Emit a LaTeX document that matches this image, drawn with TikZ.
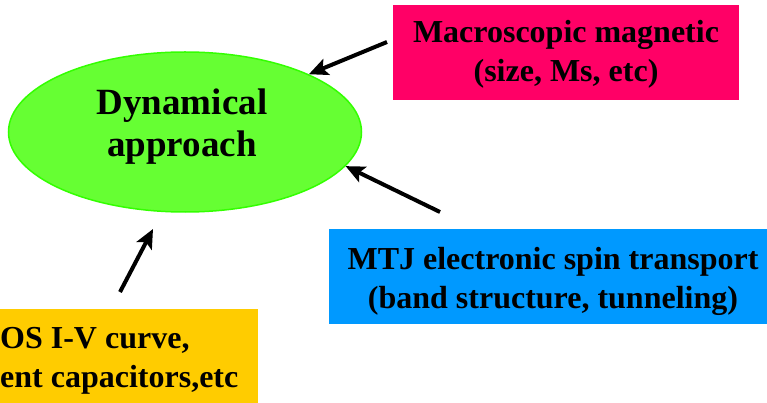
\documentclass[tikz,border=0pt]{standalone}
\usepackage{fontspec}
\setmainfont{Liberation Serif}
\usetikzlibrary{shapes.geometric,arrows.meta}
\definecolor{elfill}{HTML}{66FF33}
\definecolor{eldraw}{HTML}{33FF00}
\definecolor{pinkbox}{HTML}{FF0066}
\definecolor{bluebox}{HTML}{0099FF}
\definecolor{yellowbox}{HTML}{FFCC00}
\tikzset{
  boxtext/.style={font=\bfseries\fontsize{32}{39}\selectfont, align=center, inner sep=0pt},
  infobox/.style={rectangle, inner sep=0pt, draw=none},
  arr/.style={line width=4pt, -{Stealth[length=19pt,width=17pt,inset=4pt]}}
}
\begin{document}
\begin{tikzpicture}[x=1pt,y=-1pt]
\useasboundingbox (0,0) rectangle (767,403);
% main ellipse
\node[ellipse, fill=elfill, draw=eldraw, line width=1.5pt, minimum width=353pt, minimum height=160pt, inner sep=0pt] (dyn) at (185,132) {};
\node[font=\bfseries\fontsize{37}{42}\selectfont, align=center, inner sep=0pt, anchor=base] (dyntext) at (182,157) {Dynamical\\approach};
% boxes
\node[infobox, fill=pinkbox, minimum width=346pt, minimum height=95pt] (mag) at (566,52.5) {};
\node[boxtext, anchor=base] (magtext) at (566,82) {Macroscopic magnetic\\(size, Ms, etc)};
\node[infobox, fill=bluebox, minimum width=440pt, minimum height=95pt] (mtj) at (549,276.5) {};
\node[boxtext, anchor=base] (mtjtext) at (553,308) {MTJ electronic spin transport\\(band structure, tunneling)};
\node[infobox, fill=yellowbox, minimum width=258pt, minimum height=94pt] (cmos) at (129,356) {};
\node[boxtext, align=left, anchor=base west] (cmostext) at (0,387) {OS I-V curve,\\ent capacitors,etc};
% arrow ends
\coordinate (a1s) at (387,42);
\coordinate (a2s) at (440,212);
\coordinate (a3s) at (120,292);
\coordinate (a3e) at (153,229);
\draw[arr] (a1s) -- (dyn.25);
\draw[arr] (a2s) -- (dyn.-12);
\draw[arr] (a3s) -- (a3e);
\end{tikzpicture}
\end{document}
